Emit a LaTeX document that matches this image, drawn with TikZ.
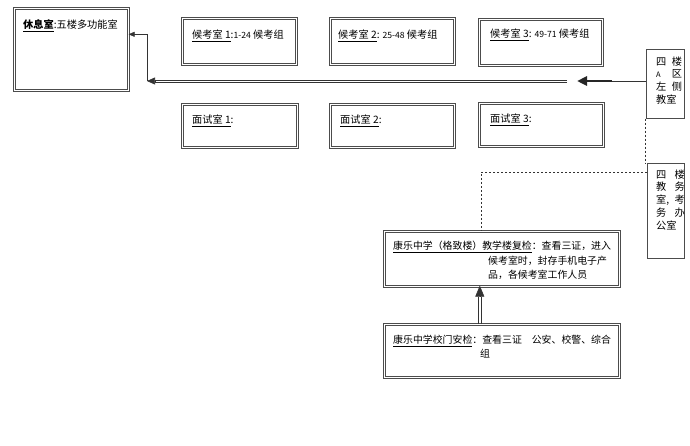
\documentclass[tikz,border=0pt]{standalone}
\usepackage{fontspec}
\setmainfont{Noto Sans CJK SC}
\usetikzlibrary{arrows.meta}
\begin{document}
\begin{tikzpicture}[x=1pt,y=-1pt,
  dbox/.style={draw=black!70, double=white, double distance=1.6pt, line width=0.6pt, inner sep=0pt, anchor=north west},
  sbox/.style={draw=black!70, line width=0.7pt, inner sep=0pt, anchor=north west},
  txt/.style={anchor=base west, inner sep=0pt, font=\fontsize{10.2}{12}\selectfont, text=black},
  ltxt/.style={anchor=base west, inner sep=0pt, font=\fontsize{9.9}{12}\selectfont, text=black},
  vtxt/.style={anchor=north west, inner sep=0pt, font=\fontsize{10.2}{12.8}\selectfont, text=black},
  conn/.style={draw=black!80, line width=0.6pt},
  tip/.style={-{Triangle[length=8pt,width=7pt]}}]
\useasboundingbox (0,0) rectangle (690,445);
% boxes
\node[dbox, minimum width=114pt, minimum height=82pt] (rest) at (14,8) {};
\node[dbox, minimum width=114pt, minimum height=46pt] (w1) at (182,18) {};
\node[dbox, minimum width=124pt, minimum height=46pt] (w2) at (330,18) {};
\node[dbox, minimum width=123pt, minimum height=46pt] (w3) at (479,19) {};
\node[dbox, minimum width=115pt, minimum height=43pt] (i1) at (182,104) {};
\node[dbox, minimum width=124pt, minimum height=43pt] (i2) at (330,104) {};
\node[dbox, minimum width=124pt, minimum height=43pt] (i3) at (479,103) {};
\node[sbox, minimum width=38pt, minimum height=69pt] (a4) at (646,49) {};
\node[sbox, minimum width=37pt, minimum height=95pt] (b4) at (647,163) {};
\node[dbox, minimum width=235pt, minimum height=55pt] (re) at (384,231) {};
\node[dbox, minimum width=235pt, minimum height=53pt] (ga) at (384,324) {};
% texts
\node[txt] (trest) at (23,28.5) {\textbf{\underline{休息室}}:五楼多功能室};
\node[txt] (tw1) at (192,38.5) {\underline{候考室 1}:{\fontsize{8.6}{10}\selectfont 1-24} 候考组};
\node[txt] (tw2) at (338,38.5) {\underline{候考室 2}: {\fontsize{8.6}{10}\selectfont 25-48} 候考组};
\node[txt] (tw3) at (490,37.5) {\underline{候考室 3}: {\fontsize{8.6}{10}\selectfont 49-71} 候考组};
\node[txt] (ti1) at (192,123.5) {\underline{面试室 1}:};
\node[txt] (ti2) at (340,123.5) {\underline{面试室 2}:};
\node[txt] (ti3) at (490,122.5) {\underline{面试室 3}:};
\node[vtxt] (ta4) at (656,56) {\begin{tabular}{@{}l@{\hspace{5.5pt}}l@{}}四&楼\\{\fontsize{7.5}{9}\selectfont A}&区\\左&侧\\\multicolumn{2}{@{}l@{}}{教室}\end{tabular}};
\node[vtxt] (tb4) at (656,169) {\begin{tabular}{@{}l@{\hspace{5.5pt}}l@{}}四&楼\\教&务\\室,\hspace{-4pt}&考\\务&办\\\multicolumn{2}{@{}l@{}}{公室}\end{tabular}};
\node[ltxt] (tre1) at (393,249.5) {\underline{康乐中学（格致楼）教学楼复检}：查看三证，进入};
\node[ltxt] (tre2) at (488,264.5) {候考室时，封存手机电子产};
\node[ltxt] (tre3) at (488,278.5) {品，各候考室工作人员};
\node[ltxt] (tga1) at (393,343.5) {\underline{康乐中学校门安检}：查看三证　公安、校警、综合};
\node[ltxt] (tga2) at (480,357.5) {组};
% connectors
\coordinate (jn) at (147,81);
\coordinate (dl) at (567,81);
\coordinate (tk1) at (612,81);
\coordinate (tk0) at (577,81);
\draw[conn] ([yshift=1.2pt]dl) -- ([xshift=8pt, yshift=1.2pt]jn);
\draw[conn] ([yshift=-1.2pt]dl) -- ([xshift=8pt, yshift=-1.2pt]jn);
\draw[conn, tip] ([xshift=8pt]jn) -- (jn);
\draw[conn, -{Triangle[length=6pt,width=5pt]}] (jn) |- ([yshift=15pt]rest.east);
\draw[conn] (a4.west |- jn) -- (tk1);
\draw[draw=black!85, line width=2.6pt, -{Triangle[length=10pt,width=9pt]}] (tk1) -- (tk0);
\draw[conn, dash pattern=on 2pt off 2pt] ([xshift=-1pt]a4.south west) -- ([xshift=-2pt]b4.north west);
\draw[conn, dash pattern=on 2pt off 2pt] ([yshift=-9pt]b4.north west) -| ([xshift=-21pt]re.north);
\coordinate (ub) at ([xshift=-22pt, yshift=-10pt]re.south);
\draw[conn] ([xshift=-23.3pt]ga.north) -- ([xshift=-1.3pt]ub);
\draw[conn] ([xshift=-20.7pt]ga.north) -- ([xshift=1.3pt]ub);
\draw[conn, -{Triangle[length=11pt,width=9pt]}] (ub) -- ([xshift=-22pt, yshift=1pt]re.south);
\end{tikzpicture}
\end{document}
